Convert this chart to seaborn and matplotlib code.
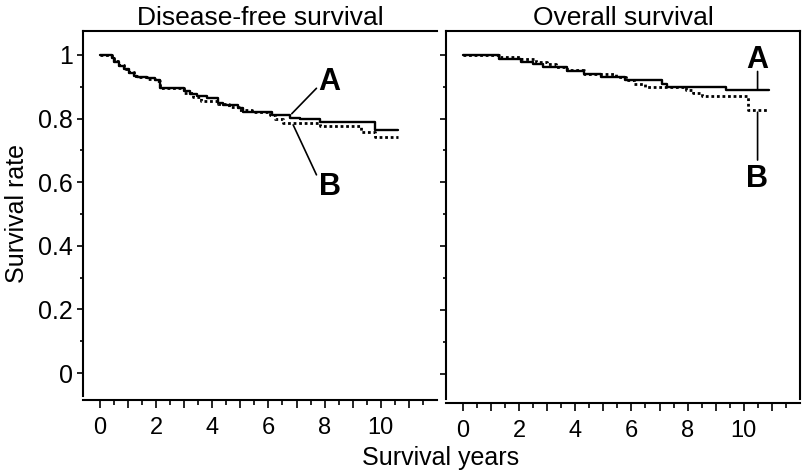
import numpy as np
import pandas as pd
import seaborn as sns
import matplotlib.pyplot as plt
from matplotlib.ticker import FixedLocator, MultipleLocator, FuncFormatter

# Disease-free survival (years, survival rate)
dfs_a_t = [0, 0.44, 0.5, 0.67, 0.85, 1.03, 1.21, 1.33, 1.68, 1.98, 2.15, 2.98, 3.22, 3.45,
           3.81, 4.22, 4.4, 4.93, 5.11, 6.11, 6.76, 7.12, 7.83, 9.78, 10.6]
dfs_a_v = [1.0, 0.99, 0.978, 0.965, 0.955, 0.942, 0.935, 0.932, 0.927, 0.921, 0.897, 0.885, 0.877, 0.870,
           0.864, 0.848, 0.843, 0.832, 0.822, 0.811, 0.803, 0.798, 0.789, 0.764, 0.764]
dfs_b_t = [0, 0.44, 0.5, 0.67, 0.85, 1.03, 1.21, 1.33, 1.68, 1.98, 2.15, 2.98, 3.3, 3.6,
           4.22, 4.6, 4.95, 5.4, 6.05, 6.23, 6.53, 7.83, 9.3, 9.78, 10.6]
dfs_b_v = [1.0, 0.99, 0.98, 0.968, 0.955, 0.945, 0.935, 0.93, 0.925, 0.918, 0.897, 0.88, 0.868, 0.855,
           0.845, 0.835, 0.828, 0.82, 0.811, 0.80, 0.785, 0.775, 0.759, 0.743, 0.743]

# Overall survival
os_a_t = [0, 1.29, 2.08, 2.5, 2.86, 3.71, 4.31, 4.91, 5.76, 7.09, 7.27, 9.38, 10.89]
os_a_v = [1.0, 0.986, 0.979, 0.971, 0.962, 0.950, 0.939, 0.930, 0.921, 0.908, 0.898, 0.891, 0.891]
os_b_t = [0, 1.29, 2.08, 2.62, 2.98, 3.3, 3.71, 4.31, 5.46, 5.8, 6.1, 6.48, 7.93, 8.2, 8.5, 10.15, 10.89]
os_b_v = [1.0, 0.993, 0.987, 0.979, 0.971, 0.962, 0.952, 0.940, 0.930, 0.921, 0.908, 0.898, 0.889,
          0.881, 0.872, 0.827, 0.827]

titles = ["Disease-free survival", "Overall survival"]
y_ticks = [0, 0.2, 0.4, 0.6, 0.8, 1]
y_labels = ["0", "0.2", "0.4", "0.6", "0.8", "1"]
x_major = list(range(0, 12))
x_minor = [k + 0.5 for k in range(0, 12)]

sns.set_style("ticks")
plt.rcParams['font.family'] = ['Liberation Sans', 'DejaVu Sans']
plt.rcParams.update({"text.color": "black", "axes.labelcolor": "black", "axes.edgecolor": "black",
                     "xtick.color": "black", "ytick.color": "black"})

fig = plt.figure(figsize=(8.02, 4.72), dpi=100)
ax1 = fig.add_axes([83 / 802, 1 - 396 / 472, 354 / 802, 365 / 472])
ax2 = fig.add_axes([446 / 802, 1 - 399 / 472, 354 / 802, 368 / 472])

panels = [(ax1, dfs_a_t, dfs_a_v, dfs_b_t, dfs_b_v), (ax2, os_a_t, os_a_v, os_b_t, os_b_v)]
for i, (ax, at, av, bt, bv) in enumerate(panels):
    sns.lineplot(x=at, y=av, ax=ax, color="black", linewidth=1.7, drawstyle="steps-post",
                 estimator=None, sort=False)
    sns.lineplot(x=bt, y=bv, ax=ax, color="black", linewidth=2.0, linestyle=(0, (1, 1)),
                 drawstyle="steps-post", estimator=None, sort=False)
    ax.set_xlim(-0.6, 12.0)
    ax.set_ylim(-0.072 if i == 0 else -0.08, 1.075)
    ax.set_title(titles[i], fontsize=19, pad=4, color="black")
    ax.xaxis.set_major_locator(FixedLocator(x_major))
    ax.xaxis.set_minor_locator(FixedLocator(x_minor))
    ax.xaxis.set_major_formatter(FuncFormatter(lambda v, p: f"{int(round(v))}" if v <= 10.5 and int(round(v)) % 2 == 0 else ""))
    ax.set_yticks(y_ticks)
    ax.yaxis.set_minor_locator(MultipleLocator(0.1))
    ax.tick_params(axis="x", which="major", length=6, width=1.2, labelsize=17, pad=6)
    ax.tick_params(axis="x", which="minor", length=3.5, width=1.2)
    ax.tick_params(axis="y", which="major", length=4.5, width=1.2, labelsize=18, pad=3)
    ax.tick_params(axis="y", which="minor", length=2.5, width=1.2)
    for s in ax.spines.values():
        s.set_linewidth(1.5)
        s.set_color("black")
    ax.spines["bottom"].set_position(("outward", 3))
    ax.set_xlabel("")
    ax.set_ylabel("")

ax1.set_yticklabels(y_labels)
ax1.spines["right"].set_visible(False)
ax2.set_yticklabels([])
ax1.set_ylabel("Survival rate", fontsize=18, labelpad=6)

bold = dict(fontsize=22, fontweight="bold", ha="center", va="center", color="black")
line = dict(arrowstyle="-", color="black", lw=1.2, shrinkA=0, shrinkB=0)
ax1.text(8.18, 0.915, "A", **bold)
ax1.annotate("", xy=(6.83, 0.815), xytext=(7.71, 0.895), arrowprops=line)
ax1.text(8.18, 0.586, "B", **bold)
ax1.annotate("", xy=(6.88, 0.78), xytext=(7.71, 0.623), arrowprops=line)
ax2.text(10.47, 0.984, "A", **bold)
ax2.annotate("", xy=(10.49, 0.893), xytext=(10.49, 0.948), arrowprops=line)
ax2.text(10.47, 0.612, "B", **bold)
ax2.annotate("", xy=(10.49, 0.82), xytext=(10.49, 0.670), arrowprops=line)

fig.text(441 / 802, 1 - 458 / 472, "Survival years", fontsize=18, ha="center", va="center")

fig.savefig("out.png", dpi=100)
